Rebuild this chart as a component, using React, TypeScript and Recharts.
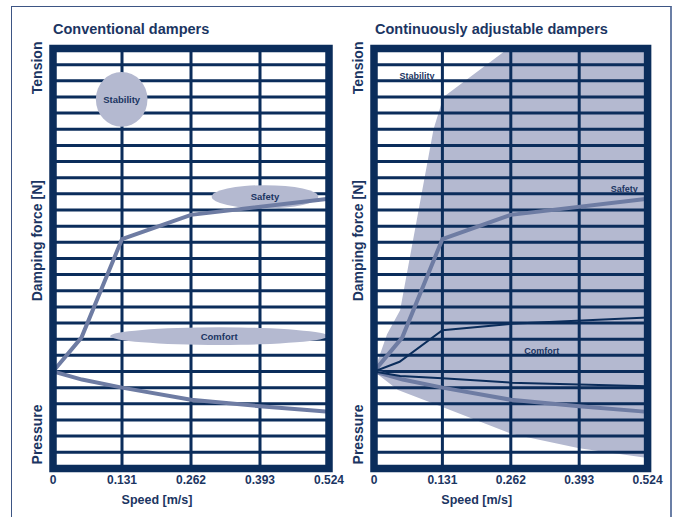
import { ComposedChart, Line, Area, XAxis, YAxis, ReferenceLine, ReferenceArea, ReferenceDot } from "recharts"

const NAVY = "#0b2d5b"
const SHADE = "#b4b9d0"
const CURVE = "#6e7ca3"
const TEXT = "#1b3562"
const FONT = "'Liberation Sans', Arial, sans-serif"

// axes
const xTicks = [0, 0.131, 0.262, 0.393, 0.524]
const gridRows = [-5, -4, -3, -2, -1, 0, 1, 2, 3, 4, 5, 6, 7, 8, 9, 10, 11, 12, 13, 14, 15, 16, 17, 18, 19]
const sideValues = [18.8, 8.1, -3.9]
const sideTexts = ["Tension", "Damping force [N]", "Pressure"]

// damper curves (speed m/s, force in grid units)
const tensionSpeed = [0, 0.054, 0.131, 0.262, 0.524]
const tensionForce = [0, 2.1, 8.2, 9.7, 10.7]
const pressureSpeed = [0, 0.055, 0.131, 0.262, 0.393, 0.524]
const pressureForce = [0, -0.5, -1.0, -1.75, -2.15, -2.5]

const comfortTensionSpeed = [0, 0.049, 0.131, 0.262, 0.524]
const comfortTensionForce = [0, 0.6, 2.55, 2.95, 3.35]
const comfortPressureSpeed = [0, 0.05, 0.131, 0.262, 0.524]
const comfortPressureForce = [0, -0.28, -0.42, -0.69, -0.92]

// adjustable range
const envelopeTopSpeed = [0, 0.025, 0.05, 0.114, 0.133, 0.257, 0.524]
const envelopeTopForce = [0, 2.3, 3.8, 15.0, 17.0, 20, 20]
const envelopeBottomSpeed = [0, 0.046, 0.131, 0.262, 0.393, 0.524]
const envelopeBottomForce = [0, -1.15, -2.2, -3.85, -4.75, -5.35]

// zones on the conventional chart
const zoneNames = ["Stability", "Safety", "Comfort"]
const zoneSpeed = [[0.0814, 0.1794], [0.3013, 0.5037], [0.1085, 0.5225]]
const zoneForce = [[15.15, 18.55], [10.1, 11.54], [1.645, 2.735]]

// labels on the adjustable chart
const tagSpeed = [0.0822, 0.4795, 0.3213]
const tagForce = [18.3, 11.34, 1.29]

const pts = (xs: number[], ys: number[]) => xs.map((s, i) => ({ speed: s, force: ys[i] }))

const SideTick = (props: any) => {
  const { x, y, payload } = props
  const i = sideValues.indexOf(payload.value)
  return (
    <text transform={`translate(${x},${y}) rotate(-90)`} textAnchor="middle" dominantBaseline="central"
      fill={TEXT} fontSize={14} fontWeight="bold" fontFamily={FONT}>
      {sideTexts[i]}
    </text>
  )
}

const Ellipse = (p: any) => (
  <ellipse cx={p.x + p.width / 2} cy={p.y + p.height / 2} rx={p.width / 2} ry={p.height / 2} fill={SHADE} />
)

function Panel({ adjustable, width, right }: { adjustable: boolean; width: number; right: number }) {
  const labelStyle = { fill: TEXT, fontSize: 9.5, fontWeight: "bold", fontFamily: FONT }
  return (
    <ComposedChart width={width} height={517} margin={{ top: 48.5, right, bottom: 0, left: 0 }}>
      <XAxis dataKey="speed" type="number" domain={[0, 0.524]} ticks={xTicks} allowDataOverflow
        tickLine={false} axisLine={false} tickSize={0} tickMargin={7} height={48.6} interval={0}
        tick={{ fill: TEXT, fontSize: 12, fontWeight: "bold", fontFamily: FONT }}
        label={{ value: "Speed [m/s]", position: "insideBottom", offset: 13, dx: -34, fill: TEXT, fontSize: 12.5, fontWeight: "bold", fontFamily: FONT }} />
      <YAxis type="number" domain={[-6, 20]} ticks={sideValues} allowDataOverflow width={53}
        tickLine={false} axisLine={false} tickSize={0} tickMargin={16} interval={0} tick={<SideTick />} />

      {adjustable && (
        <Area data={pts(envelopeTopSpeed, envelopeTopForce)} dataKey="force" type="linear" baseValue={0}
          fill={SHADE} fillOpacity={1} stroke="none" isAnimationActive={false} zIndex={50} />
      )}
      {adjustable && (
        <Area data={pts(envelopeBottomSpeed, envelopeBottomForce)} dataKey="force" type="linear" baseValue={0}
          fill={SHADE} fillOpacity={1} stroke="none" isAnimationActive={false} zIndex={50} />
      )}

      {gridRows.map((v) => (
        <ReferenceLine key={"h" + v} y={v} stroke={NAVY} strokeWidth={3} zIndex={150} />
      ))}
      {xTicks.slice(1, -1).map((v) => (
        <ReferenceLine key={"v" + v} x={v} stroke={NAVY} strokeWidth={3} zIndex={150} />
      ))}

      {!adjustable && zoneNames.map((n, i) => (
        <ReferenceArea key={n} x1={zoneSpeed[i][0]} x2={zoneSpeed[i][1]} y1={zoneForce[i][0]} y2={zoneForce[i][1]}
          shape={Ellipse} zIndex={200} label={{ value: n, position: "center", ...labelStyle }} />
      ))}

      <Line data={pts(tensionSpeed, tensionForce)} dataKey="force" type="linear" stroke={CURVE} strokeWidth={4}
        dot={false} isAnimationActive={false} zIndex={400} />
      <Line data={pts(pressureSpeed, pressureForce)} dataKey="force" type="linear" stroke={CURVE} strokeWidth={4}
        dot={false} isAnimationActive={false} zIndex={400} />
      {adjustable && (
        <Line data={pts(comfortTensionSpeed, comfortTensionForce)} dataKey="force" type="linear" stroke={NAVY}
          strokeWidth={2} dot={false} isAnimationActive={false} zIndex={400} />
      )}
      {adjustable && (
        <Line data={pts(comfortPressureSpeed, comfortPressureForce)} dataKey="force" type="linear" stroke={NAVY}
          strokeWidth={2} dot={false} isAnimationActive={false} zIndex={400} />
      )}

      <ReferenceArea x1={0} x2={0.524} y1={-6} y2={20} fill="none" stroke={NAVY} strokeWidth={7.5} zIndex={450} />

      {adjustable && zoneNames.map((n, i) => (
        <ReferenceDot key={n} x={tagSpeed[i]} y={tagForce[i]} r={0} fill="none" stroke="none" zIndex={2000}
          label={{ value: n, position: "center", ...labelStyle, fontSize: 9 }} />
      ))}
    </ComposedChart>
  )
}

export default function App() {
  const title = { position: "absolute" as const, top: 21, fontSize: 14.5, lineHeight: "16px", fontWeight: "bold" as const, color: TEXT, fontFamily: FONT, whiteSpace: "nowrap" as const }
  return (
    <div style={{ position: "absolute", left: 0, top: 0, width: 677, height: 517, overflow: "hidden", background: "#fff" }}>
      <div style={{ position: "absolute", left: 11, top: 6, width: 661, height: 511, boxSizing: "border-box",
        borderLeft: "1px solid #3d5584", borderTop: "1px solid #3d5584", borderRight: "2px solid #6b7fa6" }} />
      <div style={{ ...title, left: 53 }}>Conventional dampers</div>
      <div style={{ ...title, left: 375 }}>Continuously adjustable dampers</div>
      <div style={{ position: "absolute", left: 0, top: 0 }}>
        <Panel adjustable={false} width={350} right={21} />
      </div>
      <div style={{ position: "absolute", left: 321, top: 0 }}>
        <Panel adjustable={true} width={356} right={29.4} />
      </div>
    </div>
  )
}
